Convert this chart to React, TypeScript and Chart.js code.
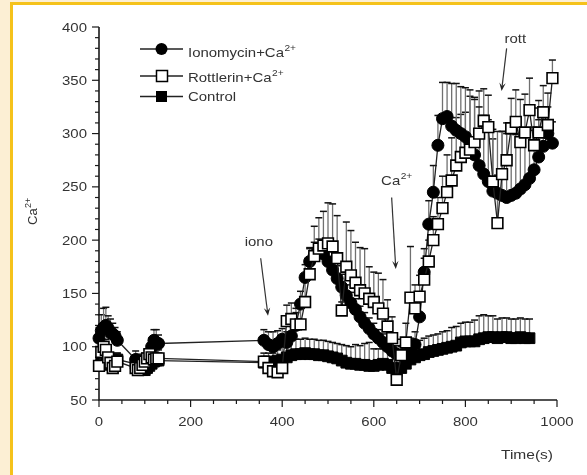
import React, { useEffect, useRef } from "react";
import { Chart, registerables } from "chart.js";

Chart.register(...registerables);

// ---------------- data ----------------
const times = [
  0, 5, 10, 15, 20, 25, 30, 35, 40,
  80, 85, 90, 95, 100, 105, 110, 115, 120, 125, 130,
  360, 370, 380, 390, 400, 410, 420, 430, 440, 450,
  460, 470, 480, 490, 500, 510, 520, 530, 540, 550,
  560, 570, 580, 590, 600, 610, 620, 630, 640, 650,
  660, 670, 680, 690, 700, 710, 720, 730, 740, 750,
  760, 770, 780, 790, 800, 810, 820, 830, 840, 850,
  860, 870, 880, 890, 900, 910, 920, 930, 940, 950,
  960, 970, 980, 990,
];

const ionomycin = [
  108, 115, 118, 120, 117, 113, 112, 110, 106,
  88, 85, 84, 82, 80, 84, 90, 100, 106, 104, 103,
  106, 102, 100, 103, 107, 104, 110, 120, 140, 165,
  180, 186, 189, 187, 180, 172, 164, 156, 148, 141,
  135, 128, 122, 117, 112, 108, 104, 100, 96, 93,
  92, 94, 98, 102, 128, 170, 215, 245, 289, 314,
  316, 307, 303, 300, 297, 291, 280, 270, 262, 255,
  246, 244, 242, 240, 242, 244, 248, 252, 258, 266,
  278, 288, 300, 291,
];
const ionomycinErr = [
  10, 15, 18, 17, 12, 13, 10, 8, 8,
  8, 8, 8, 8, 8, 8, 8, 8, 10, 12, 8,
  10, 12, 14, 12, 10, 10, 10, 12, 12, 12,
  12, 12, 12, 12, 12, 12, 12, 12, 10, 10,
  10, 10, 10, 10, 10, 8, 8, 8, 8, 8,
  8, 8, 10, 12, 20, 22, 22, 25, 28, 34,
  32, 40, 44, 44, 46, 50, 52, 55, 55, 58,
  58, 58, 60, 60, 58, 55, 52, 50, 45, 40,
  35, 30, 25, 20,
];

const rottlerin = [
  82, 95, 100, 97, 90, 85, 80, 82, 86,
  80, 78, 80, 83, 86, 89, 93, 90, 88, 89, 89,
  86, 80, 77, 76, 80, 124, 126, 121, 121, 142,
  168, 185, 192, 195, 197, 194, 183, 134, 175, 167,
  160, 153, 150, 145, 142, 136, 131, 119, 108, 69,
  92, 104, 146, 136, 147, 163, 180, 200, 215, 230,
  245, 256, 270, 278, 282, 285, 292, 300, 312, 306,
  255, 216, 262, 275, 305, 311, 292, 301, 322, 289,
  301, 320, 308, 352,
];
const rottlerinErr = [
  8, 10, 12, 10, 8, 8, 8, 8, 8,
  6, 6, 6, 8, 8, 8, 8, 8, 8, 8, 8,
  8, 8, 8, 8, 10, 15, 15, 15, 18, 20,
  25, 28, 29, 32, 38, 40, 40, 8, 42, 42,
  38, 40, 42, 30, 28, 33, 32, 25, 20, 10,
  15, 18, 48, 22, 20, 20, 20, 22, 25, 30,
  35, 40, 45, 40, 38, 50, 42, 40, 30, 30,
  40, 45, 40, 35, 28, 30, 40, 36, 30, 35,
  30, 25, 30, 17,
];

const control = [
  82, 85, 84, 83, 85, 86, 84, 86, 88,
  84, 82, 80, 78, 78, 80, 82, 84, 86, 87, 87,
  85, 86, 86, 87, 88, 90, 92, 93, 93, 94,
  93, 93, 92, 92, 91, 90, 89, 87, 85, 84,
  84, 83, 83, 82, 82, 83, 84, 83, 80, 77,
  80, 84, 88, 90, 92, 93, 95, 96, 97, 98,
  99, 100, 101, 104, 105, 105, 105, 107, 108, 109,
  109, 108, 109, 109, 108, 108, 109, 108, 108, null,
  null, null, null, null,
];
const controlErr = [
  6, 6, 6, 6, 6, 6, 6, 6, 6,
  6, 6, 6, 6, 6, 6, 6, 6, 6, 6, 6,
  6, 8, 8, 10, 12, 12, 14, 14, 14, 14,
  14, 14, 14, 14, 14, 14, 14, 15, 16, 16,
  18, 18, 20, 22, 16, 15, 14, 14, 12, 12,
  12, 12, 14, 14, 14, 15, 15, 15, 15, 16,
  16, 18, 18, 18, 18, 18, 20, 22, 22, 20,
  20, 18, 18, 18, 18, 18, 18, 18, 18, null,
  null, null, null, null,
];

const xTicks = [0, 200, 400, 600, 800, 1000];
const xMinorTicks = [50, 100, 150, 250, 300, 350, 450, 500, 550, 650, 700, 750, 850, 900, 950];
const yTicks = [50, 100, 150, 200, 250, 300, 350, 400];
const yMinorStep = 10;

const legendNames = ["Ionomycin+Ca", "Rottlerin+Ca", "Control"];
const legendSups = ["2+", "2+", ""];

// annotations in data units
const annotations = [
  { text: "iono", sup: "", tx: 349, ty: 199, ax0: 353, ay0: 183, ax1: 369, ay1: 129 },
  { text: "Ca", sup: "2+", tx: 650, ty: 256, ax0: 639, ay0: 240, ax1: 648, ay1: 173 },
  { text: "rott", sup: "", tx: 909, ty: 390, ax0: 890, ay0: 380, ax1: 879, ay1: 340 },
];

// ---------------- helpers ----------------
const FONT = '"Liberation Sans", Arial, Helvetica, sans-serif';
const SX = 1.15;
const TEXT = "#333";

function measure(ctx: CanvasRenderingContext2D, s: string, size: number) {
  ctx.font = `${size}px ${FONT}`;
  return ctx.measureText(s).width * SX;
}

function drawText(ctx: CanvasRenderingContext2D, s: string, x: number, y: number, size: number, align = "left") {
  const w = measure(ctx, s, size);
  const x0 = align === "right" ? x - w : align === "center" ? x - w / 2 : x;
  ctx.save();
  ctx.font = `${size}px ${FONT}`;
  ctx.fillStyle = TEXT;
  ctx.textAlign = "left";
  ctx.textBaseline = "alphabetic";
  ctx.translate(x0, y);
  ctx.scale(SX, 1);
  ctx.fillText(s, 0, 0);
  ctx.restore();
  return w;
}

function drawSup(ctx: CanvasRenderingContext2D, base: string, sup: string, x: number, y: number, size: number, align = "left") {
  const supSize = size * 0.68;
  const wb = measure(ctx, base, size);
  const ws = sup ? measure(ctx, sup, supSize) + 0.5 : 0;
  const total = wb + ws;
  const x0 = align === "right" ? x - total : align === "center" ? x - total / 2 : x;
  drawText(ctx, base, x0, y, size, "left");
  if (sup) drawText(ctx, sup, x0 + wb + 0.5, y - size * 0.48, supSize, "left");
}

function arrow(ctx: CanvasRenderingContext2D, x0: number, y0: number, x1: number, y1: number) {
  const ang = Math.atan2(y1 - y0, x1 - x0);
  const hl = 8, hw = 3.2;
  ctx.save();
  ctx.strokeStyle = "#333";
  ctx.fillStyle = "#222";
  ctx.lineWidth = 1.2;
  ctx.beginPath();
  ctx.moveTo(x0, y0);
  ctx.lineTo(x1 - Math.cos(ang) * hl * 0.6, y1 - Math.sin(ang) * hl * 0.6);
  ctx.stroke();
  ctx.beginPath();
  ctx.moveTo(x1, y1);
  ctx.lineTo(x1 - Math.cos(ang) * hl + Math.sin(ang) * hw, y1 - Math.sin(ang) * hl - Math.cos(ang) * hw);
  ctx.lineTo(x1 - Math.cos(ang) * hl * 0.6, y1 - Math.sin(ang) * hl * 0.6);
  ctx.lineTo(x1 - Math.cos(ang) * hl - Math.sin(ang) * hw, y1 - Math.sin(ang) * hl + Math.cos(ang) * hw);
  ctx.closePath();
  ctx.fill();
  ctx.restore();
}

const errorSets = [rottlerinErr, ionomycinErr, controlErr];

const decorPlugin = {
  id: "decor",
  beforeDraw(chart: any) {
    const ctx = chart.ctx as CanvasRenderingContext2D;
    const W = chart.width, H = chart.height;
    ctx.save();
    ctx.fillStyle = "#fcefd4";
    ctx.fillRect(0, 0, W, H);
    ctx.fillStyle = "#f5c21b";
    ctx.fillRect(10, 2, W - 10, H - 2);
    ctx.fillStyle = "#ffffff";
    ctx.fillRect(13, 5, W - 13, H - 5);
    ctx.restore();
  },
  beforeDatasetsDraw(chart: any) {
    const ctx = chart.ctx as CanvasRenderingContext2D;
    const xs = chart.scales.x, ys = chart.scales.y;
    const x0 = xs.getPixelForValue(0), x1 = xs.getPixelForValue(1000);
    const yb = ys.getPixelForValue(50), yt = ys.getPixelForValue(400);
    ctx.save();
    ctx.strokeStyle = "#1a1a1a";
    ctx.lineWidth = 1.6;
    ctx.beginPath();
    ctx.moveTo(x0, yt);
    ctx.lineTo(x0, yb);
    ctx.lineTo(x1, yb);
    ctx.stroke();
    // y ticks
    ctx.lineWidth = 1.2;
    for (let v = 50; v <= 400; v += yMinorStep) {
      const py = ys.getPixelForValue(v);
      const major = yTicks.includes(v);
      ctx.beginPath();
      ctx.moveTo(x0, py);
      ctx.lineTo(x0 - (major ? 7 : 4), py);
      ctx.stroke();
    }
    for (const v of xTicks) {
      const px = xs.getPixelForValue(v);
      ctx.beginPath();
      ctx.moveTo(px, yb);
      ctx.lineTo(px, yb + 7);
      ctx.stroke();
    }
    for (const v of xMinorTicks) {
      const px = xs.getPixelForValue(v);
      ctx.beginPath();
      ctx.moveTo(px, yb);
      ctx.lineTo(px, yb + 4);
      ctx.stroke();
    }
    ctx.restore();

    // tick labels
    for (const v of yTicks) drawText(ctx, String(v), x0 - 12, ys.getPixelForValue(v) + 4.6, 13, "right");
    for (const v of xTicks) drawText(ctx, String(v), xs.getPixelForValue(v), yb + 26, 13, "center");

    // error bars
    ctx.save();
    chart.data.datasets.forEach((ds: any, di: number) => {
      const errs = errorSets[di];
      ds.data.forEach((p: any, i: number) => {
        if (p.y == null || errs[i] == null) return;
        const px = xs.getPixelForValue(p.x);
        const p0 = ys.getPixelForValue(p.y);
        const p1 = ys.getPixelForValue(p.y + errs[i]);
        ctx.strokeStyle = "#707070";
        ctx.lineWidth = 1.3;
        ctx.beginPath();
        ctx.moveTo(px, p0);
        ctx.lineTo(px, p1);
        ctx.stroke();
        ctx.strokeStyle = "#111";
        ctx.lineWidth = 1.5;
        ctx.beginPath();
        ctx.moveTo(px - 3.5, p1);
        ctx.lineTo(px + 3.5, p1);
        ctx.stroke();
      });
    });
    ctx.restore();
  },
  afterDraw(chart: any) {
    const ctx = chart.ctx as CanvasRenderingContext2D;
    const xs = chart.scales.x, ys = chart.scales.y;

    // axis titles
    drawText(ctx, "Time(s)", 553, 459, 13.5, "right");
    ctx.save();
    ctx.translate(37, 212);
    ctx.rotate(-Math.PI / 2);
    ctx.font = `13px ${FONT}`;
    ctx.fillStyle = TEXT;
    ctx.textBaseline = "alphabetic";
    const wc = ctx.measureText("Ca").width;
    ctx.fillText("Ca", -13, 0);
    ctx.font = `9px ${FONT}`;
    ctx.fillText("2+", -13 + wc + 0.5, -6);
    ctx.restore();

    // legend
    const rows = [49, 76, 96.5];
    const baselines = [57, 82, 101];
    rows.forEach((ry, i) => {
      ctx.save();
      ctx.strokeStyle = "#222";
      ctx.lineWidth = 1.3;
      ctx.beginPath();
      ctx.moveTo(140, ry);
      ctx.lineTo(183, ry);
      ctx.stroke();
      if (i === 0) {
        ctx.fillStyle = "#000";
        ctx.beginPath();
        ctx.arc(161.5, ry, 6, 0, Math.PI * 2);
        ctx.fill();
      } else if (i === 1) {
        ctx.fillStyle = "#fff";
        ctx.fillRect(156.5, ry - 5.5, 11, 11);
        ctx.strokeStyle = "#000";
        ctx.lineWidth = 1.5;
        ctx.strokeRect(156.5, ry - 5.5, 11, 11);
      } else {
        ctx.fillStyle = "#000";
        ctx.fillRect(156, ry - 5.5, 11, 11);
      }
      ctx.restore();
      drawSup(ctx, legendNames[i], legendSups[i], 188, baselines[i], 13, "left");
    });

    // annotations
    annotations.forEach((a) => {
      const tx = xs.getPixelForValue(a.tx);
      const ty = ys.getPixelForValue(a.ty);
      drawSup(ctx, a.text, a.sup, tx, ty + 5, 13, "center");
      arrow(ctx, xs.getPixelForValue(a.ax0), ys.getPixelForValue(a.ay0), xs.getPixelForValue(a.ax1), ys.getPixelForValue(a.ay1));
    });
  },
};

function toPoints(vals: (number | null)[]) {
  return times.map((t, i) => ({ x: t, y: vals[i] }));
}

export default function App() {
  const ref = useRef<HTMLCanvasElement | null>(null);
  useEffect(() => {
    if (!ref.current) return;
    const chart = new Chart(ref.current, {
      type: "line",
      data: {
        datasets: [
          {
            label: "Rottlerin+Ca2+",
            data: toPoints(rottlerin),
            pointStyle: "rect",
            pointRadius: 7.6,
            pointBackgroundColor: "#ffffff",
            pointBorderColor: "#000000",
            pointBorderWidth: 1.6,
            borderColor: "#222",
            borderWidth: 1.3,
            tension: 0,
            clip: false,
            order: 0,
          },
          {
            label: "Ionomycin+Ca2+",
            data: toPoints(ionomycin),
            pointStyle: "circle",
            pointRadius: 6,
            pointBackgroundColor: "#000000",
            pointBorderColor: "#000000",
            pointBorderWidth: 1,
            borderColor: "#222",
            borderWidth: 1.3,
            tension: 0,
            clip: false,
            order: 1,
          },
          {
            label: "Control",
            data: toPoints(control),
            pointStyle: "rect",
            pointRadius: 7.6,
            pointBackgroundColor: "#000000",
            pointBorderColor: "#000000",
            pointBorderWidth: 1,
            borderColor: "#222",
            borderWidth: 1.3,
            tension: 0,
            clip: false,
            order: 2,
          },
        ] as any,
      },
      options: {
        responsive: false,
        animation: false,
        devicePixelRatio: 1,
        layout: { padding: { left: 99, right: 30, top: 27, bottom: 75 } },
        plugins: { legend: { display: false }, tooltip: { enabled: false } },
        scales: {
          x: { type: "linear", min: 0, max: 1000, display: false },
          y: { type: "linear", min: 50, max: 400, display: false },
        },
      } as any,
      plugins: [decorPlugin],
    });
    return () => chart.destroy();
  }, []);
  return (
    <div style={{ position: "fixed", left: 0, top: 0, width: 587, height: 475 }}>
      <canvas ref={ref} width={587} height={475} style={{ display: "block" }} />
    </div>
  );
}
